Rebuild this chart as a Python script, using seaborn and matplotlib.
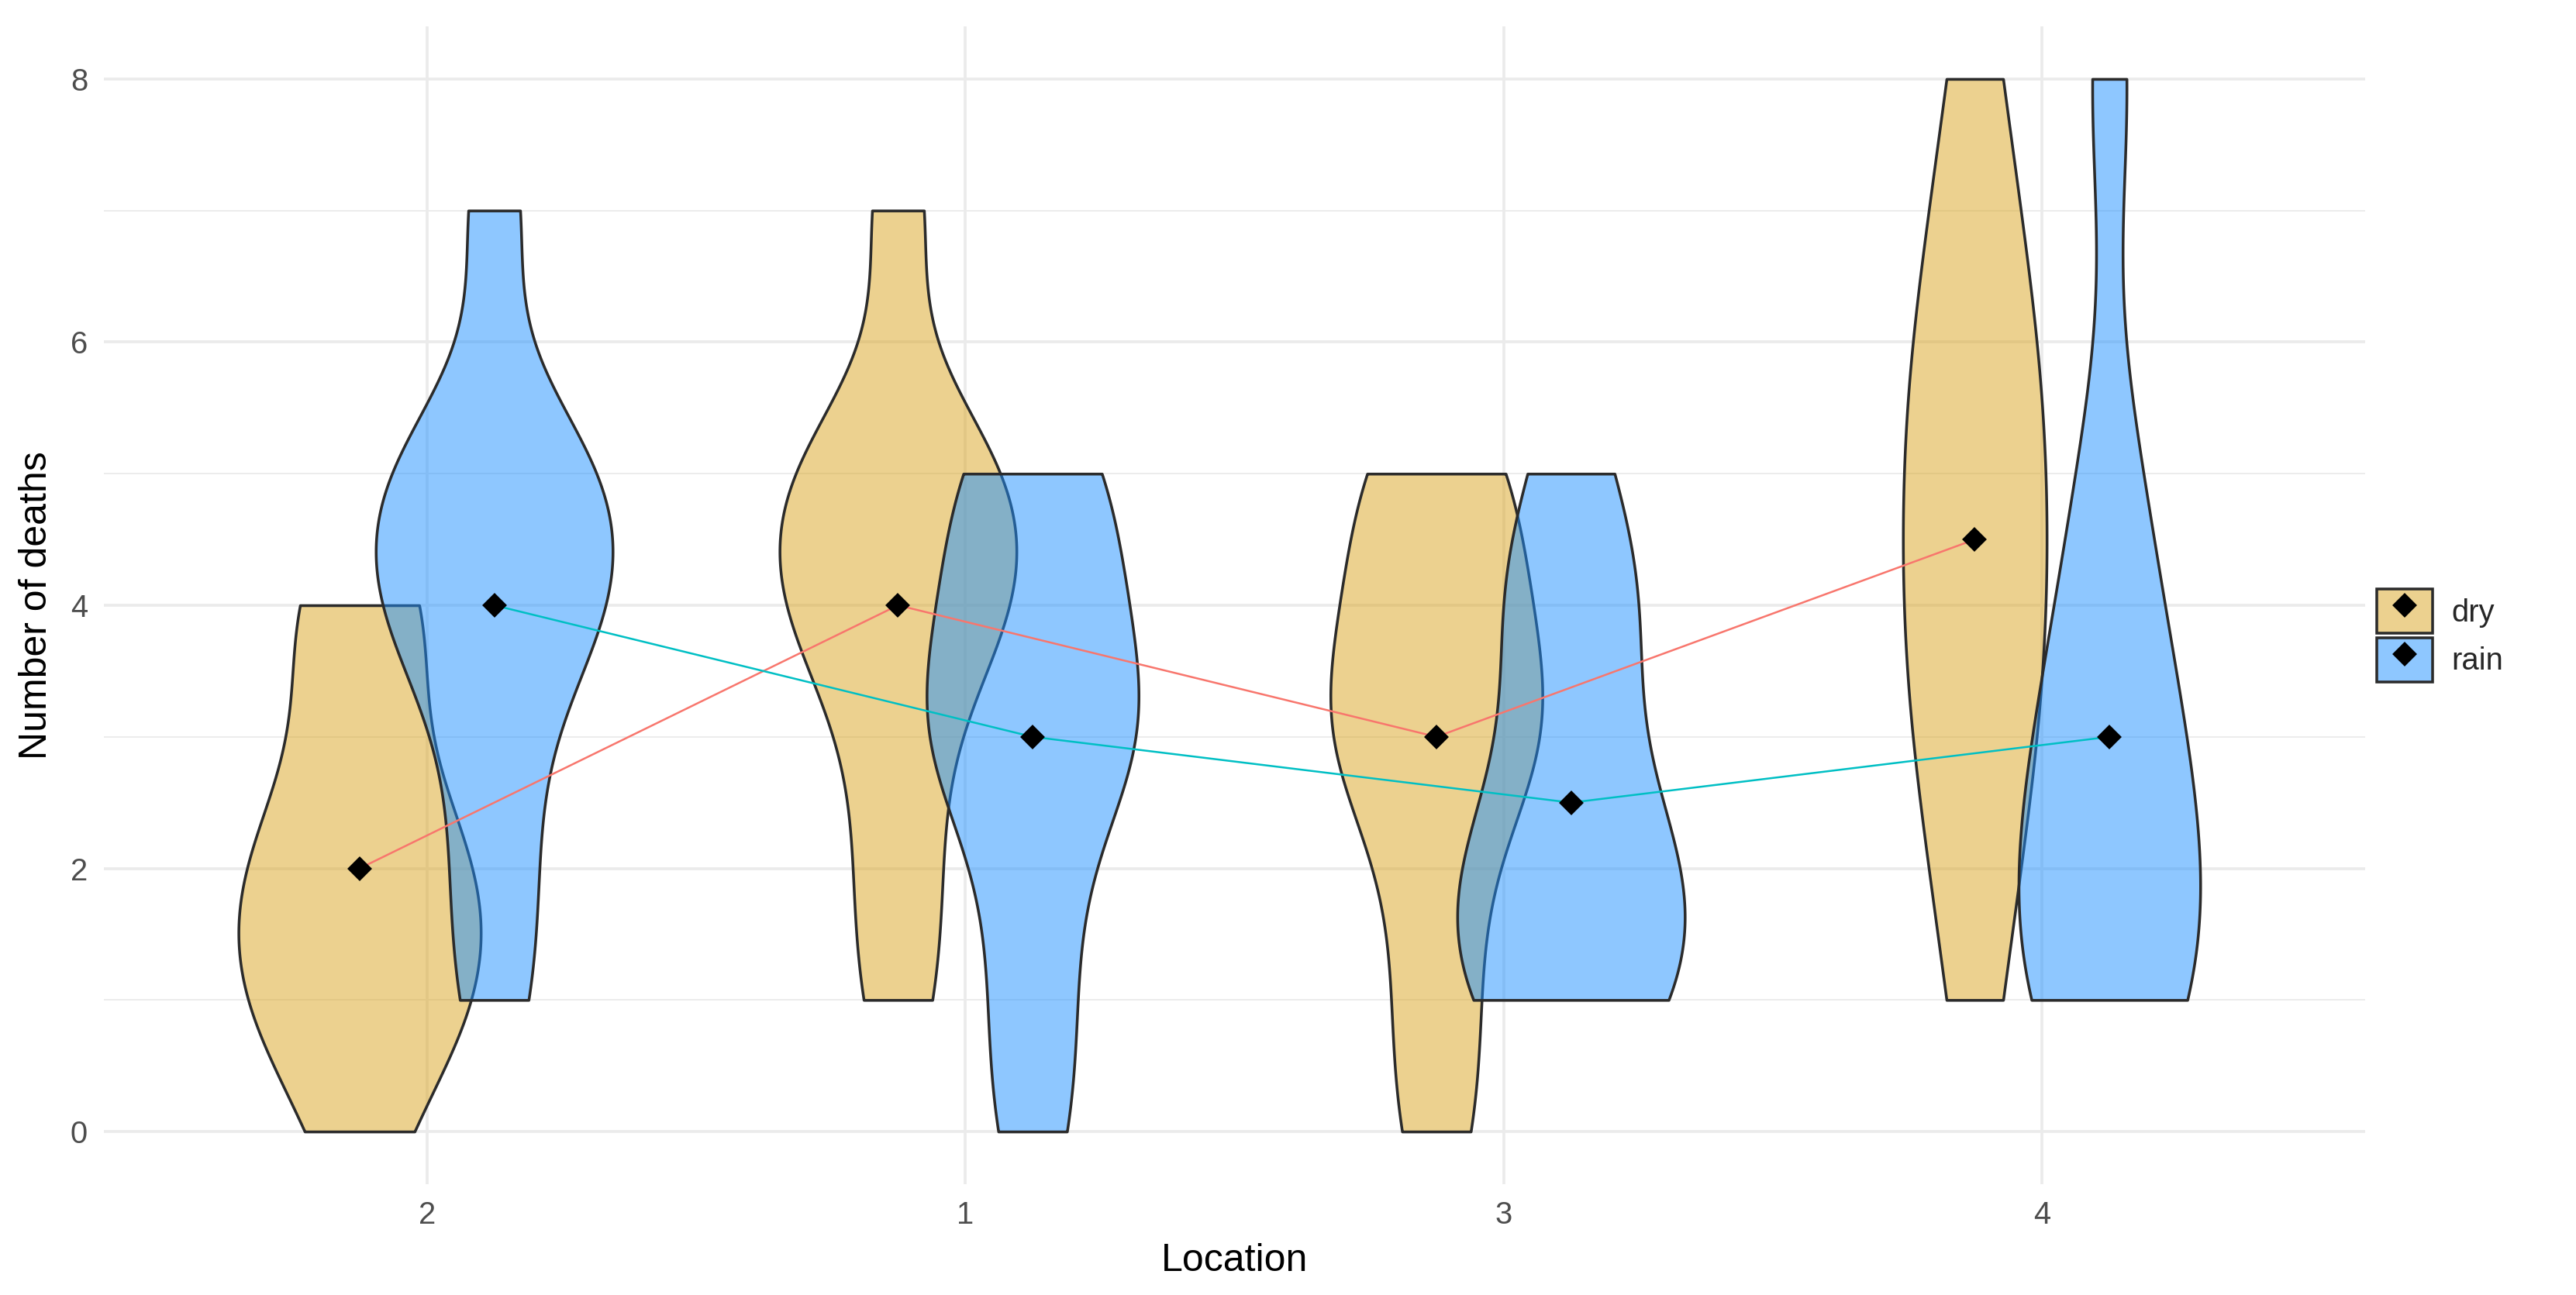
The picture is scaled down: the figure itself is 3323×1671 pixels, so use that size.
import numpy as np
import pandas as pd
import matplotlib
matplotlib.use("Agg")
import matplotlib.pyplot as plt
import seaborn as sns
from matplotlib.patches import Patch
from matplotlib.lines import Line2D
from matplotlib.legend_handler import HandlerTuple

# ---------------- data ----------------
locations = ["2", "1", "3", "4"]          # order along the x axis
weathers = ["dry", "rain"]

dry_loc2 = [0, 1, 1, 1, 2, 2, 2, 3, 4, 4]
dry_loc1 = [1, 2, 3, 4, 4, 4, 5, 5, 5, 7]
dry_loc3 = [0, 1, 2, 3, 3, 3, 4, 4, 5, 5]
dry_loc4 = [1, 2, 3, 3, 4, 4, 5, 5, 6, 6, 7, 8]

rain_loc2 = [1, 2, 3, 4, 4, 4, 5, 5, 5, 7]
rain_loc1 = [0, 1, 2, 3, 3, 3, 4, 4, 5, 5]
rain_loc3 = [1, 1, 1, 2, 2, 2, 3, 4, 4, 5]
rain_loc4 = [1, 1, 1, 2, 2, 3, 3, 4, 5, 8]

fill_colors = {"dry": "#DAA520", "rain": "#1E90FF"}
line_colors = {"dry": "#F8766D", "rain": "#00BFC4"}

samples = {
    ("2", "dry"): dry_loc2, ("1", "dry"): dry_loc1,
    ("3", "dry"): dry_loc3, ("4", "dry"): dry_loc4,
    ("2", "rain"): rain_loc2, ("1", "rain"): rain_loc1,
    ("3", "rain"): rain_loc3, ("4", "rain"): rain_loc4,
}
rows = []
for (loc, w), vals in samples.items():
    for v in vals:
        rows.append({"Location": loc, "Weather": w, "Deaths": v})
df = pd.DataFrame(rows)


def nrd0(kde):
    """R's bw.nrd0 bandwidth, expressed as a scipy gaussian_kde factor."""
    x = np.asarray(kde.dataset).ravel()
    sd = x.std(ddof=1)
    q75, q25 = np.percentile(x, [75, 25])
    lo = min(sd, (q75 - q25) / 1.34)
    if lo == 0:
        lo = sd if sd else (abs(x[0]) if x[0] else 1.0)
    bw = 0.9 * lo * len(x) ** -0.2
    return bw / sd


# ---------------- figure ----------------
W, H, DPI = 3323, 1671, 300
sns.set_theme(style="white")
plt.rcParams["font.family"] = ["Liberation Sans", "DejaVu Sans"]

fig = plt.figure(figsize=(W / DPI, H / DPI), dpi=DPI)
ax = fig.add_axes([134 / W, 1 - 1528 / H, (3051 - 134) / W, (1528 - 34) / H])

dodge_width = 0.5
sns.violinplot(
    data=df, x="Location", y="Deaths", hue="Weather",
    order=locations, hue_order=weathers, palette=fill_colors,
    width=dodge_width, gap=-0.8, dodge=True, cut=0, bw_method=nrd0,
    density_norm="area", common_norm=True, inner=None,
    linewidth=0.85, linecolor="#2B2B2B", saturation=1, gridsize=512,
    legend=False, ax=ax,
)
for coll in ax.collections:
    fc = np.array(coll.get_facecolor())
    if len(fc):
        fc[:, 3] = 0.5
        coll.set_facecolor(fc)

# mean diamonds joined by lines, at the dodged positions
means = df.groupby(["Weather", "Location"])["Deaths"].mean()
n_h = len(weathers)
for i, w in enumerate(weathers):
    off = dodge_width / n_h * i + dodge_width / n_h / 2 - dodge_width / 2
    xs = [locations.index(l) + off for l in locations]
    ys = [means[(w, l)] for l in locations]
    ax.plot(xs, ys, color=line_colors[w], lw=0.6, zorder=5)
    ax.plot(xs, ys, linestyle="none", marker="D", color="black", ms=4.4, zorder=6)

# axes styling (ggplot theme_minimal look)
ax.set_xlim(-0.6, len(locations) - 0.4)
ax.set_ylim(-0.4, 8.4)
ax.set_yticks([0, 2, 4, 6, 8])
ax.set_yticks([1, 3, 5, 7], minor=True)
ax.set_xticks(range(len(locations)))
ax.set_xticklabels(locations)
ax.set_axisbelow(True)
ax.grid(which="major", color="#EBEBEB", lw=0.9)
ax.grid(which="minor", axis="y", color="#EBEBEB", lw=0.45)
ax.xaxis.grid(True, which="major")
for s in ax.spines.values():
    s.set_visible(False)
ax.tick_params(axis="both", which="both", length=0, pad=5,
               labelsize=9.6, labelcolor="#4D4D4D")
ax.set_xlabel("Location", fontsize=12, color="black", labelpad=4)
ax.set_ylabel("Number of deaths", fontsize=12, color="black", labelpad=5)

# legend
handles = []
for w in weathers:
    p = Patch(facecolor=matplotlib.colors.to_rgba(fill_colors[w], 0.5),
              edgecolor="#2B2B2B", linewidth=0.85)
    m = Line2D([], [], linestyle="none", marker="D", color="black", ms=4.4)
    handles.append((p, m))
fig.legend(handles, weathers, handler_map={tuple: HandlerTuple(ndivide=1)},
           loc="center left", bbox_to_anchor=(3066 / W, 1 - 820 / H),
           frameon=False, fontsize=9.6, handlelength=1.8, handleheight=1.8,
           labelspacing=0.15, handletextpad=0.6, borderpad=0, borderaxespad=0)

fig.savefig("out.png", dpi=DPI, facecolor="white")
